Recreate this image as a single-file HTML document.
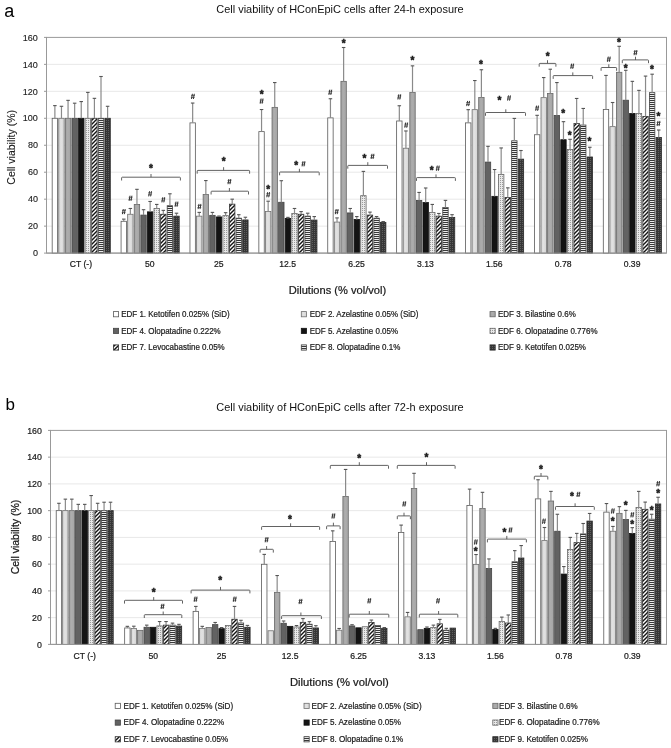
<!DOCTYPE html>
<html><head><meta charset="utf-8"><style>
html,body{margin:0;padding:0;background:#fff;}
svg{display:block;will-change:transform;}
text{font-family:"Liberation Sans",sans-serif;fill:#1a1a1a;}
.cat,.lg,.dil{stroke:#1a1a1a;stroke-width:0.22px;}
.tk{font-size:9px;stroke:#1a1a1a;stroke-width:0.12px;}
.cat{font-size:8.6px;}
.lg{font-size:7.96px;}
.ttl{font-size:10.95px;fill:#111;}
.dil{font-size:11px;}
.yl{font-size:10.5px;stroke:#1a1a1a;stroke-width:0.1px;}
.tkb{stroke:#1a1a1a;stroke-width:0.2px;font-size:8.8px;}
.ylb{stroke:#1a1a1a;stroke-width:0.25px;}
.pl{font-size:18px;fill:#000;}
.st{font-size:10px;font-weight:bold;fill:#1a1a1a;stroke:#1a1a1a;stroke-width:0.45px;}
.hs{font-size:6.5px;font-style:italic;font-weight:bold;fill:#333;}
</style></head>
<body><svg width="671" height="748" viewBox="0 0 671 748">
<rect width="671" height="748" fill="#fff"/>

<defs>
<linearGradient id="g2" x1="0" x2="1" y1="0" y2="0">
 <stop offset="0" stop-color="#d6d6d6"/><stop offset="0.45" stop-color="#e2e2e2"/><stop offset="1" stop-color="#d4d4d4"/>
</linearGradient>
<linearGradient id="g3" x1="0" x2="1" y1="0" y2="0">
 <stop offset="0" stop-color="#a2a2a2"/><stop offset="0.45" stop-color="#adadad"/><stop offset="1" stop-color="#a4a4a4"/>
</linearGradient>
<pattern id="p6" width="2" height="2" patternUnits="userSpaceOnUse">
 <rect width="2" height="2" fill="#e9e9e9"/><rect x="0" y="0" width="1" height="1" fill="#9a9a9a"/>
</pattern>
<pattern id="p7" width="4" height="4" patternUnits="userSpaceOnUse">
 <rect width="4" height="4" fill="#ffffff"/><path d="M0 3 L3 0 L4 0 L4 1 L1 4 L0 4 Z M0 0 L1 0 L0 1 Z M4 3 L4 4 L3 4 Z" fill="#141414"/>
</pattern>
<pattern id="p8" width="2" height="2" patternUnits="userSpaceOnUse">
 <rect width="2" height="2" fill="#ececec"/><rect width="2" height="1" fill="#383838"/>
</pattern>
<pattern id="p9" width="2" height="2" patternUnits="userSpaceOnUse">
 <rect width="2" height="2" fill="#363636"/><rect x="0" y="0" width="1" height="1" fill="#5e5e5e"/>
</pattern>
</defs>

<text x="4.2" y="17" class="pl">a</text>
<text x="340" y="13.1" text-anchor="middle" class="ttl">Cell viability of HConEpiC cells after 24-h exposure</text>
<text transform="translate(15.4,147.3) rotate(-90)" text-anchor="middle" class="yl">Cell viability (%)</text>
<line x1="46.5" y1="226.14" x2="666.5" y2="226.14" stroke="#e8e8e8" stroke-width="1"/>
<line x1="46.5" y1="199.18" x2="666.5" y2="199.18" stroke="#e8e8e8" stroke-width="1"/>
<line x1="46.5" y1="172.21" x2="666.5" y2="172.21" stroke="#e8e8e8" stroke-width="1"/>
<line x1="46.5" y1="145.25" x2="666.5" y2="145.25" stroke="#e8e8e8" stroke-width="1"/>
<line x1="46.5" y1="118.29" x2="666.5" y2="118.29" stroke="#e8e8e8" stroke-width="1"/>
<line x1="46.5" y1="91.32" x2="666.5" y2="91.32" stroke="#e8e8e8" stroke-width="1"/>
<line x1="46.5" y1="64.36" x2="666.5" y2="64.36" stroke="#e8e8e8" stroke-width="1"/>
<rect x="46.5" y="37.4" width="620" height="215.7" fill="none" stroke="#999" stroke-width="1"/>
<line x1="44" y1="253.1" x2="46.5" y2="253.1" stroke="#999" stroke-width="1"/>
<text x="37.9" y="256.3" text-anchor="end" class="tk">0</text>
<line x1="44" y1="226.14" x2="46.5" y2="226.14" stroke="#999" stroke-width="1"/>
<text x="37.9" y="229.34" text-anchor="end" class="tk">20</text>
<line x1="44" y1="199.18" x2="46.5" y2="199.18" stroke="#999" stroke-width="1"/>
<text x="37.9" y="202.38" text-anchor="end" class="tk">40</text>
<line x1="44" y1="172.21" x2="46.5" y2="172.21" stroke="#999" stroke-width="1"/>
<text x="37.9" y="175.41" text-anchor="end" class="tk">60</text>
<line x1="44" y1="145.25" x2="46.5" y2="145.25" stroke="#999" stroke-width="1"/>
<text x="37.9" y="148.45" text-anchor="end" class="tk">80</text>
<line x1="44" y1="118.29" x2="46.5" y2="118.29" stroke="#999" stroke-width="1"/>
<text x="37.9" y="121.49" text-anchor="end" class="tk">100</text>
<line x1="44" y1="91.32" x2="46.5" y2="91.32" stroke="#999" stroke-width="1"/>
<text x="37.9" y="94.52" text-anchor="end" class="tk">120</text>
<line x1="44" y1="64.36" x2="46.5" y2="64.36" stroke="#999" stroke-width="1"/>
<text x="37.9" y="67.56" text-anchor="end" class="tk">140</text>
<line x1="44" y1="37.4" x2="46.5" y2="37.4" stroke="#999" stroke-width="1"/>
<text x="37.9" y="40.6" text-anchor="end" class="tk">160</text>
<rect x="52.18" y="118.29" width="5.4" height="134.81" fill="#ffffff" stroke="#5a5a5a" stroke-width="0.8"/>
<line x1="54.88" y1="118.29" x2="54.88" y2="105.62" stroke="#8a8a8a" stroke-width="1.2"/>
<line x1="53.13" y1="105.62" x2="56.63" y2="105.62" stroke="#555" stroke-width="1.1"/>
<rect x="58.77" y="118.29" width="5.4" height="134.81" fill="url(#g2)" stroke="#707070" stroke-width="0.8"/>
<line x1="61.47" y1="118.29" x2="61.47" y2="106.29" stroke="#8a8a8a" stroke-width="1.2"/>
<line x1="59.72" y1="106.29" x2="63.22" y2="106.29" stroke="#555" stroke-width="1.1"/>
<rect x="65.36" y="118.29" width="5.4" height="134.81" fill="url(#g3)" stroke="#686868" stroke-width="0.8"/>
<line x1="68.06" y1="118.29" x2="68.06" y2="100.36" stroke="#8a8a8a" stroke-width="1.2"/>
<line x1="66.31" y1="100.36" x2="69.81" y2="100.36" stroke="#555" stroke-width="1.1"/>
<rect x="71.95" y="118.29" width="5.4" height="134.81" fill="#626262" stroke="#444" stroke-width="0.8"/>
<line x1="74.65" y1="118.29" x2="74.65" y2="103.19" stroke="#8a8a8a" stroke-width="1.2"/>
<line x1="72.9" y1="103.19" x2="76.4" y2="103.19" stroke="#555" stroke-width="1.1"/>
<rect x="78.54" y="118.29" width="5.4" height="134.81" fill="#141414" stroke="#111" stroke-width="0.8"/>
<line x1="81.24" y1="118.29" x2="81.24" y2="101.57" stroke="#8a8a8a" stroke-width="1.2"/>
<line x1="79.49" y1="101.57" x2="82.99" y2="101.57" stroke="#555" stroke-width="1.1"/>
<rect x="85.13" y="118.29" width="5.4" height="134.81" fill="url(#p6)" stroke="#666" stroke-width="0.8"/>
<line x1="87.83" y1="118.29" x2="87.83" y2="92.4" stroke="#8a8a8a" stroke-width="1.2"/>
<line x1="86.08" y1="92.4" x2="89.58" y2="92.4" stroke="#555" stroke-width="1.1"/>
<rect x="91.72" y="118.29" width="5.4" height="134.81" fill="url(#p7)" stroke="#333" stroke-width="0.8"/>
<line x1="94.42" y1="118.29" x2="94.42" y2="98.34" stroke="#8a8a8a" stroke-width="1.2"/>
<line x1="92.67" y1="98.34" x2="96.17" y2="98.34" stroke="#555" stroke-width="1.1"/>
<rect x="98.31" y="118.29" width="5.4" height="134.81" fill="url(#p8)" stroke="#444" stroke-width="0.8"/>
<line x1="101.01" y1="118.29" x2="101.01" y2="76.5" stroke="#8a8a8a" stroke-width="1.2"/>
<line x1="99.26" y1="76.5" x2="102.76" y2="76.5" stroke="#555" stroke-width="1.1"/>
<rect x="104.9" y="118.29" width="5.4" height="134.81" fill="url(#p9)" stroke="#2a2a2a" stroke-width="0.8"/>
<line x1="107.6" y1="118.29" x2="107.6" y2="106.29" stroke="#8a8a8a" stroke-width="1.2"/>
<line x1="105.85" y1="106.29" x2="109.35" y2="106.29" stroke="#555" stroke-width="1.1"/>
<text x="80.94" y="267.3" text-anchor="middle" class="cat">CT (-)</text>
<rect x="121.07" y="221.28" width="5.4" height="31.82" fill="#ffffff" stroke="#5a5a5a" stroke-width="0.8"/>
<line x1="123.77" y1="221.28" x2="123.77" y2="219.13" stroke="#8a8a8a" stroke-width="1.2"/>
<line x1="122.02" y1="219.13" x2="125.52" y2="219.13" stroke="#555" stroke-width="1.1"/>
<rect x="127.66" y="214.27" width="5.4" height="38.83" fill="url(#g2)" stroke="#707070" stroke-width="0.8"/>
<line x1="130.36" y1="214.27" x2="130.36" y2="208.48" stroke="#8a8a8a" stroke-width="1.2"/>
<line x1="128.61" y1="208.48" x2="132.11" y2="208.48" stroke="#555" stroke-width="1.1"/>
<rect x="134.25" y="204.43" width="5.4" height="48.67" fill="url(#g3)" stroke="#686868" stroke-width="0.8"/>
<line x1="136.95" y1="204.43" x2="136.95" y2="189.33" stroke="#8a8a8a" stroke-width="1.2"/>
<line x1="135.2" y1="189.33" x2="138.7" y2="189.33" stroke="#555" stroke-width="1.1"/>
<rect x="140.84" y="215.08" width="5.4" height="38.02" fill="#626262" stroke="#444" stroke-width="0.8"/>
<line x1="143.54" y1="215.08" x2="143.54" y2="209.69" stroke="#8a8a8a" stroke-width="1.2"/>
<line x1="141.79" y1="209.69" x2="145.29" y2="209.69" stroke="#555" stroke-width="1.1"/>
<rect x="147.43" y="211.85" width="5.4" height="41.25" fill="#141414" stroke="#111" stroke-width="0.8"/>
<line x1="150.13" y1="211.85" x2="150.13" y2="201.47" stroke="#8a8a8a" stroke-width="1.2"/>
<line x1="148.38" y1="201.47" x2="151.88" y2="201.47" stroke="#555" stroke-width="1.1"/>
<rect x="154.02" y="208.48" width="5.4" height="44.62" fill="url(#p6)" stroke="#666" stroke-width="0.8"/>
<line x1="156.72" y1="208.48" x2="156.72" y2="204.43" stroke="#8a8a8a" stroke-width="1.2"/>
<line x1="154.97" y1="204.43" x2="158.47" y2="204.43" stroke="#555" stroke-width="1.1"/>
<rect x="160.61" y="214.27" width="5.4" height="38.83" fill="url(#p7)" stroke="#333" stroke-width="0.8"/>
<line x1="163.31" y1="214.27" x2="163.31" y2="210.36" stroke="#8a8a8a" stroke-width="1.2"/>
<line x1="161.56" y1="210.36" x2="165.06" y2="210.36" stroke="#555" stroke-width="1.1"/>
<rect x="167.2" y="205.65" width="5.4" height="47.45" fill="url(#p8)" stroke="#444" stroke-width="0.8"/>
<line x1="169.9" y1="205.65" x2="169.9" y2="193.78" stroke="#8a8a8a" stroke-width="1.2"/>
<line x1="168.15" y1="193.78" x2="171.65" y2="193.78" stroke="#555" stroke-width="1.1"/>
<rect x="173.79" y="216.16" width="5.4" height="36.94" fill="url(#p9)" stroke="#2a2a2a" stroke-width="0.8"/>
<line x1="176.49" y1="216.16" x2="176.49" y2="213.2" stroke="#8a8a8a" stroke-width="1.2"/>
<line x1="174.74" y1="213.2" x2="178.24" y2="213.2" stroke="#555" stroke-width="1.1"/>
<text x="149.83" y="267.3" text-anchor="middle" class="cat">50</text>
<rect x="189.96" y="122.87" width="5.4" height="130.23" fill="#ffffff" stroke="#5a5a5a" stroke-width="0.8"/>
<line x1="192.66" y1="122.87" x2="192.66" y2="103.05" stroke="#8a8a8a" stroke-width="1.2"/>
<line x1="190.91" y1="103.05" x2="194.41" y2="103.05" stroke="#555" stroke-width="1.1"/>
<rect x="196.55" y="216.16" width="5.4" height="36.94" fill="url(#g2)" stroke="#707070" stroke-width="0.8"/>
<line x1="199.25" y1="216.16" x2="199.25" y2="212.39" stroke="#8a8a8a" stroke-width="1.2"/>
<line x1="197.5" y1="212.39" x2="201" y2="212.39" stroke="#555" stroke-width="1.1"/>
<rect x="203.14" y="194.59" width="5.4" height="58.51" fill="url(#g3)" stroke="#686868" stroke-width="0.8"/>
<line x1="205.84" y1="194.59" x2="205.84" y2="180.57" stroke="#8a8a8a" stroke-width="1.2"/>
<line x1="204.09" y1="180.57" x2="207.59" y2="180.57" stroke="#555" stroke-width="1.1"/>
<rect x="209.73" y="215.35" width="5.4" height="37.75" fill="#626262" stroke="#444" stroke-width="0.8"/>
<line x1="212.43" y1="215.35" x2="212.43" y2="212.39" stroke="#8a8a8a" stroke-width="1.2"/>
<line x1="210.68" y1="212.39" x2="214.18" y2="212.39" stroke="#555" stroke-width="1.1"/>
<rect x="216.32" y="216.97" width="5.4" height="36.13" fill="#141414" stroke="#111" stroke-width="0.8"/>
<line x1="219.02" y1="216.97" x2="219.02" y2="216.03" stroke="#8a8a8a" stroke-width="1.2"/>
<line x1="217.27" y1="216.03" x2="220.77" y2="216.03" stroke="#555" stroke-width="1.1"/>
<rect x="222.91" y="215.62" width="5.4" height="37.48" fill="url(#p6)" stroke="#666" stroke-width="0.8"/>
<line x1="225.61" y1="215.62" x2="225.61" y2="212.66" stroke="#8a8a8a" stroke-width="1.2"/>
<line x1="223.86" y1="212.66" x2="227.36" y2="212.66" stroke="#555" stroke-width="1.1"/>
<rect x="229.5" y="204.16" width="5.4" height="48.94" fill="url(#p7)" stroke="#333" stroke-width="0.8"/>
<line x1="232.2" y1="204.16" x2="232.2" y2="199.18" stroke="#8a8a8a" stroke-width="1.2"/>
<line x1="230.45" y1="199.18" x2="233.95" y2="199.18" stroke="#555" stroke-width="1.1"/>
<rect x="236.09" y="218.18" width="5.4" height="34.92" fill="url(#p8)" stroke="#444" stroke-width="0.8"/>
<line x1="238.79" y1="218.18" x2="238.79" y2="214.68" stroke="#8a8a8a" stroke-width="1.2"/>
<line x1="237.04" y1="214.68" x2="240.54" y2="214.68" stroke="#555" stroke-width="1.1"/>
<rect x="242.68" y="219.94" width="5.4" height="33.16" fill="url(#p9)" stroke="#2a2a2a" stroke-width="0.8"/>
<line x1="245.38" y1="219.94" x2="245.38" y2="217.24" stroke="#8a8a8a" stroke-width="1.2"/>
<line x1="243.63" y1="217.24" x2="247.13" y2="217.24" stroke="#555" stroke-width="1.1"/>
<text x="218.72" y="267.3" text-anchor="middle" class="cat">25</text>
<rect x="258.85" y="131.63" width="5.4" height="121.47" fill="#ffffff" stroke="#5a5a5a" stroke-width="0.8"/>
<line x1="261.55" y1="131.63" x2="261.55" y2="109.52" stroke="#8a8a8a" stroke-width="1.2"/>
<line x1="259.8" y1="109.52" x2="263.3" y2="109.52" stroke="#555" stroke-width="1.1"/>
<rect x="265.44" y="211.58" width="5.4" height="41.52" fill="url(#g2)" stroke="#707070" stroke-width="0.8"/>
<line x1="268.14" y1="211.58" x2="268.14" y2="201.2" stroke="#8a8a8a" stroke-width="1.2"/>
<line x1="266.39" y1="201.2" x2="269.89" y2="201.2" stroke="#555" stroke-width="1.1"/>
<rect x="272.03" y="107.37" width="5.4" height="145.73" fill="url(#g3)" stroke="#686868" stroke-width="0.8"/>
<line x1="274.73" y1="107.37" x2="274.73" y2="82.56" stroke="#8a8a8a" stroke-width="1.2"/>
<line x1="272.98" y1="82.56" x2="276.48" y2="82.56" stroke="#555" stroke-width="1.1"/>
<rect x="278.62" y="202.28" width="5.4" height="50.82" fill="#626262" stroke="#444" stroke-width="0.8"/>
<line x1="281.32" y1="202.28" x2="281.32" y2="180.71" stroke="#8a8a8a" stroke-width="1.2"/>
<line x1="279.57" y1="180.71" x2="283.07" y2="180.71" stroke="#555" stroke-width="1.1"/>
<rect x="285.21" y="218.45" width="5.4" height="34.65" fill="#141414" stroke="#111" stroke-width="0.8"/>
<line x1="287.91" y1="218.45" x2="287.91" y2="217.37" stroke="#8a8a8a" stroke-width="1.2"/>
<line x1="286.16" y1="217.37" x2="289.66" y2="217.37" stroke="#555" stroke-width="1.1"/>
<rect x="291.8" y="213.47" width="5.4" height="39.63" fill="url(#p6)" stroke="#666" stroke-width="0.8"/>
<line x1="294.5" y1="213.47" x2="294.5" y2="208.48" stroke="#8a8a8a" stroke-width="1.2"/>
<line x1="292.75" y1="208.48" x2="296.25" y2="208.48" stroke="#555" stroke-width="1.1"/>
<rect x="298.39" y="214.27" width="5.4" height="38.83" fill="url(#p7)" stroke="#333" stroke-width="0.8"/>
<line x1="301.09" y1="214.27" x2="301.09" y2="211.58" stroke="#8a8a8a" stroke-width="1.2"/>
<line x1="299.34" y1="211.58" x2="302.84" y2="211.58" stroke="#555" stroke-width="1.1"/>
<rect x="304.98" y="216.16" width="5.4" height="36.94" fill="url(#p8)" stroke="#444" stroke-width="0.8"/>
<line x1="307.68" y1="216.16" x2="307.68" y2="213.2" stroke="#8a8a8a" stroke-width="1.2"/>
<line x1="305.93" y1="213.2" x2="309.43" y2="213.2" stroke="#555" stroke-width="1.1"/>
<rect x="311.57" y="220.07" width="5.4" height="33.03" fill="url(#p9)" stroke="#2a2a2a" stroke-width="0.8"/>
<line x1="314.27" y1="220.07" x2="314.27" y2="216.57" stroke="#8a8a8a" stroke-width="1.2"/>
<line x1="312.52" y1="216.57" x2="316.02" y2="216.57" stroke="#555" stroke-width="1.1"/>
<text x="287.61" y="267.3" text-anchor="middle" class="cat">12.5</text>
<rect x="327.74" y="117.88" width="5.4" height="135.22" fill="#ffffff" stroke="#5a5a5a" stroke-width="0.8"/>
<line x1="330.44" y1="117.88" x2="330.44" y2="98.74" stroke="#8a8a8a" stroke-width="1.2"/>
<line x1="328.69" y1="98.74" x2="332.19" y2="98.74" stroke="#555" stroke-width="1.1"/>
<rect x="334.33" y="222.09" width="5.4" height="31.01" fill="url(#g2)" stroke="#707070" stroke-width="0.8"/>
<line x1="337.03" y1="222.09" x2="337.03" y2="217.91" stroke="#8a8a8a" stroke-width="1.2"/>
<line x1="335.28" y1="217.91" x2="338.78" y2="217.91" stroke="#555" stroke-width="1.1"/>
<rect x="340.92" y="81.35" width="5.4" height="171.75" fill="url(#g3)" stroke="#686868" stroke-width="0.8"/>
<line x1="343.62" y1="81.35" x2="343.62" y2="47.51" stroke="#8a8a8a" stroke-width="1.2"/>
<line x1="341.87" y1="47.51" x2="345.37" y2="47.51" stroke="#555" stroke-width="1.1"/>
<rect x="347.51" y="212.93" width="5.4" height="40.17" fill="#626262" stroke="#444" stroke-width="0.8"/>
<line x1="350.21" y1="212.93" x2="350.21" y2="208.48" stroke="#8a8a8a" stroke-width="1.2"/>
<line x1="348.46" y1="208.48" x2="351.96" y2="208.48" stroke="#555" stroke-width="1.1"/>
<rect x="354.1" y="219.4" width="5.4" height="33.7" fill="#141414" stroke="#111" stroke-width="0.8"/>
<line x1="356.8" y1="219.4" x2="356.8" y2="216.57" stroke="#8a8a8a" stroke-width="1.2"/>
<line x1="355.05" y1="216.57" x2="358.55" y2="216.57" stroke="#555" stroke-width="1.1"/>
<rect x="360.69" y="195.67" width="5.4" height="57.43" fill="url(#p6)" stroke="#666" stroke-width="0.8"/>
<line x1="363.39" y1="195.67" x2="363.39" y2="171.4" stroke="#8a8a8a" stroke-width="1.2"/>
<line x1="361.64" y1="171.4" x2="365.14" y2="171.4" stroke="#555" stroke-width="1.1"/>
<rect x="367.28" y="215.08" width="5.4" height="38.02" fill="url(#p7)" stroke="#333" stroke-width="0.8"/>
<line x1="369.98" y1="215.08" x2="369.98" y2="212.12" stroke="#8a8a8a" stroke-width="1.2"/>
<line x1="368.23" y1="212.12" x2="371.73" y2="212.12" stroke="#555" stroke-width="1.1"/>
<rect x="373.87" y="218.18" width="5.4" height="34.92" fill="url(#p8)" stroke="#444" stroke-width="0.8"/>
<line x1="376.57" y1="218.18" x2="376.57" y2="216.57" stroke="#8a8a8a" stroke-width="1.2"/>
<line x1="374.82" y1="216.57" x2="378.32" y2="216.57" stroke="#555" stroke-width="1.1"/>
<rect x="380.46" y="222.36" width="5.4" height="30.74" fill="url(#p9)" stroke="#2a2a2a" stroke-width="0.8"/>
<line x1="383.16" y1="222.36" x2="383.16" y2="221.55" stroke="#8a8a8a" stroke-width="1.2"/>
<line x1="381.41" y1="221.55" x2="384.91" y2="221.55" stroke="#555" stroke-width="1.1"/>
<text x="356.5" y="267.3" text-anchor="middle" class="cat">6.25</text>
<rect x="396.63" y="120.98" width="5.4" height="132.12" fill="#ffffff" stroke="#5a5a5a" stroke-width="0.8"/>
<line x1="399.33" y1="120.98" x2="399.33" y2="105.75" stroke="#8a8a8a" stroke-width="1.2"/>
<line x1="397.58" y1="105.75" x2="401.08" y2="105.75" stroke="#555" stroke-width="1.1"/>
<rect x="403.22" y="148.22" width="5.4" height="104.88" fill="url(#g2)" stroke="#707070" stroke-width="0.8"/>
<line x1="405.92" y1="148.22" x2="405.92" y2="130.96" stroke="#8a8a8a" stroke-width="1.2"/>
<line x1="404.17" y1="130.96" x2="407.67" y2="130.96" stroke="#555" stroke-width="1.1"/>
<rect x="409.81" y="92.54" width="5.4" height="160.56" fill="url(#g3)" stroke="#686868" stroke-width="0.8"/>
<line x1="412.51" y1="92.54" x2="412.51" y2="65.85" stroke="#8a8a8a" stroke-width="1.2"/>
<line x1="410.76" y1="65.85" x2="414.26" y2="65.85" stroke="#555" stroke-width="1.1"/>
<rect x="416.4" y="200.39" width="5.4" height="52.71" fill="#626262" stroke="#444" stroke-width="0.8"/>
<line x1="419.1" y1="200.39" x2="419.1" y2="192.43" stroke="#8a8a8a" stroke-width="1.2"/>
<line x1="417.35" y1="192.43" x2="420.85" y2="192.43" stroke="#555" stroke-width="1.1"/>
<rect x="422.99" y="202.55" width="5.4" height="50.55" fill="#141414" stroke="#111" stroke-width="0.8"/>
<line x1="425.69" y1="202.55" x2="425.69" y2="187.99" stroke="#8a8a8a" stroke-width="1.2"/>
<line x1="423.94" y1="187.99" x2="427.44" y2="187.99" stroke="#555" stroke-width="1.1"/>
<rect x="429.58" y="212.52" width="5.4" height="40.58" fill="url(#p6)" stroke="#666" stroke-width="0.8"/>
<line x1="432.28" y1="212.52" x2="432.28" y2="204.43" stroke="#8a8a8a" stroke-width="1.2"/>
<line x1="430.53" y1="204.43" x2="434.03" y2="204.43" stroke="#555" stroke-width="1.1"/>
<rect x="436.17" y="216.16" width="5.4" height="36.94" fill="url(#p7)" stroke="#333" stroke-width="0.8"/>
<line x1="438.87" y1="216.16" x2="438.87" y2="213.47" stroke="#8a8a8a" stroke-width="1.2"/>
<line x1="437.12" y1="213.47" x2="440.62" y2="213.47" stroke="#555" stroke-width="1.1"/>
<rect x="442.76" y="207.4" width="5.4" height="45.7" fill="url(#p8)" stroke="#444" stroke-width="0.8"/>
<line x1="445.46" y1="207.4" x2="445.46" y2="200.39" stroke="#8a8a8a" stroke-width="1.2"/>
<line x1="443.71" y1="200.39" x2="447.21" y2="200.39" stroke="#555" stroke-width="1.1"/>
<rect x="449.35" y="217.37" width="5.4" height="35.73" fill="url(#p9)" stroke="#2a2a2a" stroke-width="0.8"/>
<line x1="452.05" y1="217.37" x2="452.05" y2="214.68" stroke="#8a8a8a" stroke-width="1.2"/>
<line x1="450.3" y1="214.68" x2="453.8" y2="214.68" stroke="#555" stroke-width="1.1"/>
<text x="425.39" y="267.3" text-anchor="middle" class="cat">3.13</text>
<rect x="465.52" y="122.87" width="5.4" height="130.23" fill="#ffffff" stroke="#5a5a5a" stroke-width="0.8"/>
<line x1="468.22" y1="122.87" x2="468.22" y2="109.66" stroke="#8a8a8a" stroke-width="1.2"/>
<line x1="466.47" y1="109.66" x2="469.97" y2="109.66" stroke="#555" stroke-width="1.1"/>
<rect x="472.11" y="109.66" width="5.4" height="143.44" fill="url(#g2)" stroke="#707070" stroke-width="0.8"/>
<line x1="474.81" y1="109.66" x2="474.81" y2="80.54" stroke="#8a8a8a" stroke-width="1.2"/>
<line x1="473.06" y1="80.54" x2="476.56" y2="80.54" stroke="#555" stroke-width="1.1"/>
<rect x="478.7" y="97.53" width="5.4" height="155.57" fill="url(#g3)" stroke="#686868" stroke-width="0.8"/>
<line x1="481.4" y1="97.53" x2="481.4" y2="69.75" stroke="#8a8a8a" stroke-width="1.2"/>
<line x1="479.65" y1="69.75" x2="483.15" y2="69.75" stroke="#555" stroke-width="1.1"/>
<rect x="485.29" y="162.1" width="5.4" height="91" fill="#626262" stroke="#444" stroke-width="0.8"/>
<line x1="487.99" y1="162.1" x2="487.99" y2="146.33" stroke="#8a8a8a" stroke-width="1.2"/>
<line x1="486.24" y1="146.33" x2="489.74" y2="146.33" stroke="#555" stroke-width="1.1"/>
<rect x="491.88" y="196.34" width="5.4" height="56.76" fill="#141414" stroke="#111" stroke-width="0.8"/>
<line x1="494.58" y1="196.34" x2="494.58" y2="169.52" stroke="#8a8a8a" stroke-width="1.2"/>
<line x1="492.83" y1="169.52" x2="496.33" y2="169.52" stroke="#555" stroke-width="1.1"/>
<rect x="498.47" y="174.37" width="5.4" height="78.73" fill="url(#p6)" stroke="#666" stroke-width="0.8"/>
<line x1="501.17" y1="174.37" x2="501.17" y2="147.95" stroke="#8a8a8a" stroke-width="1.2"/>
<line x1="499.42" y1="147.95" x2="502.92" y2="147.95" stroke="#555" stroke-width="1.1"/>
<rect x="505.06" y="197.42" width="5.4" height="55.68" fill="url(#p7)" stroke="#333" stroke-width="0.8"/>
<line x1="507.76" y1="197.42" x2="507.76" y2="187.85" stroke="#8a8a8a" stroke-width="1.2"/>
<line x1="506.01" y1="187.85" x2="509.51" y2="187.85" stroke="#555" stroke-width="1.1"/>
<rect x="511.65" y="140.8" width="5.4" height="112.3" fill="url(#p8)" stroke="#444" stroke-width="0.8"/>
<line x1="514.35" y1="140.8" x2="514.35" y2="118.42" stroke="#8a8a8a" stroke-width="1.2"/>
<line x1="512.6" y1="118.42" x2="516.1" y2="118.42" stroke="#555" stroke-width="1.1"/>
<rect x="518.24" y="159.14" width="5.4" height="93.96" fill="url(#p9)" stroke="#2a2a2a" stroke-width="0.8"/>
<line x1="520.94" y1="159.14" x2="520.94" y2="150.51" stroke="#8a8a8a" stroke-width="1.2"/>
<line x1="519.19" y1="150.51" x2="522.69" y2="150.51" stroke="#555" stroke-width="1.1"/>
<text x="494.28" y="267.3" text-anchor="middle" class="cat">1.56</text>
<rect x="534.41" y="134.73" width="5.4" height="118.37" fill="#ffffff" stroke="#5a5a5a" stroke-width="0.8"/>
<line x1="537.11" y1="134.73" x2="537.11" y2="115.32" stroke="#8a8a8a" stroke-width="1.2"/>
<line x1="535.36" y1="115.32" x2="538.86" y2="115.32" stroke="#555" stroke-width="1.1"/>
<rect x="541" y="97.66" width="5.4" height="155.44" fill="url(#g2)" stroke="#707070" stroke-width="0.8"/>
<line x1="543.7" y1="97.66" x2="543.7" y2="77.57" stroke="#8a8a8a" stroke-width="1.2"/>
<line x1="541.95" y1="77.57" x2="545.45" y2="77.57" stroke="#555" stroke-width="1.1"/>
<rect x="547.59" y="93.48" width="5.4" height="159.62" fill="url(#g3)" stroke="#686868" stroke-width="0.8"/>
<line x1="550.29" y1="93.48" x2="550.29" y2="69.22" stroke="#8a8a8a" stroke-width="1.2"/>
<line x1="548.54" y1="69.22" x2="552.04" y2="69.22" stroke="#555" stroke-width="1.1"/>
<rect x="554.18" y="115.46" width="5.4" height="137.64" fill="#626262" stroke="#444" stroke-width="0.8"/>
<line x1="556.88" y1="115.46" x2="556.88" y2="82.56" stroke="#8a8a8a" stroke-width="1.2"/>
<line x1="555.13" y1="82.56" x2="558.63" y2="82.56" stroke="#555" stroke-width="1.1"/>
<rect x="560.77" y="139.72" width="5.4" height="113.38" fill="#141414" stroke="#111" stroke-width="0.8"/>
<line x1="563.47" y1="139.72" x2="563.47" y2="121.66" stroke="#8a8a8a" stroke-width="1.2"/>
<line x1="561.72" y1="121.66" x2="565.22" y2="121.66" stroke="#555" stroke-width="1.1"/>
<rect x="567.36" y="149.43" width="5.4" height="103.67" fill="url(#p6)" stroke="#666" stroke-width="0.8"/>
<line x1="570.06" y1="149.43" x2="570.06" y2="139.32" stroke="#8a8a8a" stroke-width="1.2"/>
<line x1="568.31" y1="139.32" x2="571.81" y2="139.32" stroke="#555" stroke-width="1.1"/>
<rect x="573.95" y="123.55" width="5.4" height="129.55" fill="url(#p7)" stroke="#333" stroke-width="0.8"/>
<line x1="576.65" y1="123.55" x2="576.65" y2="98.47" stroke="#8a8a8a" stroke-width="1.2"/>
<line x1="574.9" y1="98.47" x2="578.4" y2="98.47" stroke="#555" stroke-width="1.1"/>
<rect x="580.54" y="125.03" width="5.4" height="128.07" fill="url(#p8)" stroke="#444" stroke-width="0.8"/>
<line x1="583.24" y1="125.03" x2="583.24" y2="108.45" stroke="#8a8a8a" stroke-width="1.2"/>
<line x1="581.49" y1="108.45" x2="584.99" y2="108.45" stroke="#555" stroke-width="1.1"/>
<rect x="587.13" y="156.98" width="5.4" height="96.12" fill="url(#p9)" stroke="#2a2a2a" stroke-width="0.8"/>
<line x1="589.83" y1="156.98" x2="589.83" y2="147.27" stroke="#8a8a8a" stroke-width="1.2"/>
<line x1="588.08" y1="147.27" x2="591.58" y2="147.27" stroke="#555" stroke-width="1.1"/>
<text x="563.17" y="267.3" text-anchor="middle" class="cat">0.78</text>
<rect x="603.3" y="109.52" width="5.4" height="143.58" fill="#ffffff" stroke="#5a5a5a" stroke-width="0.8"/>
<line x1="606" y1="109.52" x2="606" y2="75.42" stroke="#8a8a8a" stroke-width="1.2"/>
<line x1="604.25" y1="75.42" x2="607.75" y2="75.42" stroke="#555" stroke-width="1.1"/>
<rect x="609.89" y="126.65" width="5.4" height="126.45" fill="url(#g2)" stroke="#707070" stroke-width="0.8"/>
<line x1="612.59" y1="126.65" x2="612.59" y2="102.51" stroke="#8a8a8a" stroke-width="1.2"/>
<line x1="610.84" y1="102.51" x2="614.34" y2="102.51" stroke="#555" stroke-width="1.1"/>
<rect x="616.48" y="72.32" width="5.4" height="180.78" fill="url(#g3)" stroke="#686868" stroke-width="0.8"/>
<line x1="619.18" y1="72.32" x2="619.18" y2="46.3" stroke="#8a8a8a" stroke-width="1.2"/>
<line x1="617.43" y1="46.3" x2="620.93" y2="46.3" stroke="#555" stroke-width="1.1"/>
<rect x="623.07" y="100.22" width="5.4" height="152.88" fill="#626262" stroke="#444" stroke-width="0.8"/>
<line x1="625.77" y1="100.22" x2="625.77" y2="70.29" stroke="#8a8a8a" stroke-width="1.2"/>
<line x1="624.02" y1="70.29" x2="627.52" y2="70.29" stroke="#555" stroke-width="1.1"/>
<rect x="629.66" y="113.43" width="5.4" height="139.67" fill="#141414" stroke="#111" stroke-width="0.8"/>
<line x1="632.36" y1="113.43" x2="632.36" y2="81.35" stroke="#8a8a8a" stroke-width="1.2"/>
<line x1="630.61" y1="81.35" x2="634.11" y2="81.35" stroke="#555" stroke-width="1.1"/>
<rect x="636.25" y="113.43" width="5.4" height="139.67" fill="url(#p6)" stroke="#666" stroke-width="0.8"/>
<line x1="638.95" y1="113.43" x2="638.95" y2="90.38" stroke="#8a8a8a" stroke-width="1.2"/>
<line x1="637.2" y1="90.38" x2="640.7" y2="90.38" stroke="#555" stroke-width="1.1"/>
<rect x="642.84" y="116.4" width="5.4" height="136.7" fill="url(#p7)" stroke="#333" stroke-width="0.8"/>
<line x1="645.54" y1="116.4" x2="645.54" y2="76.09" stroke="#8a8a8a" stroke-width="1.2"/>
<line x1="643.79" y1="76.09" x2="647.29" y2="76.09" stroke="#555" stroke-width="1.1"/>
<rect x="649.43" y="92.67" width="5.4" height="160.43" fill="url(#p8)" stroke="#444" stroke-width="0.8"/>
<line x1="652.13" y1="92.67" x2="652.13" y2="74.2" stroke="#8a8a8a" stroke-width="1.2"/>
<line x1="650.38" y1="74.2" x2="653.88" y2="74.2" stroke="#555" stroke-width="1.1"/>
<rect x="656.02" y="137.43" width="5.4" height="115.67" fill="url(#p9)" stroke="#2a2a2a" stroke-width="0.8"/>
<line x1="658.72" y1="137.43" x2="658.72" y2="130.02" stroke="#8a8a8a" stroke-width="1.2"/>
<line x1="656.97" y1="130.02" x2="660.47" y2="130.02" stroke="#555" stroke-width="1.1"/>
<text x="632.06" y="267.3" text-anchor="middle" class="cat">0.39</text>
<line x1="46.5" y1="253.1" x2="666.5" y2="253.1" stroke="#999" stroke-width="1"/>
<path d="M121.6 180.5 L121.6 177.9 Q121.6 177.2 122.3 177.2 L179.7 177.2 Q180.4 177.2 180.4 177.9 L180.4 180.5 M151 177.2 L151 174" fill="none" stroke="#505050" stroke-width="0.9"/>
<path d="M197.2 173.7 L197.2 171.1 Q197.2 170.4 197.9 170.4 L248.9 170.4 Q249.6 170.4 249.6 171.1 L249.6 173.7 M223.6 170.4 L223.6 167.2" fill="none" stroke="#505050" stroke-width="0.9"/>
<path d="M211.1 194.5 L211.1 191.9 Q211.1 191.2 211.8 191.2 L247.8 191.2 Q248.5 191.2 248.5 191.9 L248.5 194.5 M229.4 191.2 L229.4 188" fill="none" stroke="#505050" stroke-width="0.9"/>
<path d="M279.6 175.3 L279.6 172.7 Q279.6 172 280.3 172 L318.5 172 Q319.2 172 319.2 172.7 L319.2 175.3 M299.4 172 L299.4 168.8" fill="none" stroke="#505050" stroke-width="0.9"/>
<path d="M347.8 168.7 L347.8 166.1 Q347.8 165.4 348.5 165.4 L386.8 165.4 Q387.5 165.4 387.5 166.1 L387.5 168.7 M367.8 165.4 L367.8 162.2" fill="none" stroke="#505050" stroke-width="0.9"/>
<path d="M416.5 180.9 L416.5 178.3 Q416.5 177.6 417.2 177.6 L454.7 177.6 Q455.4 177.6 455.4 178.3 L455.4 180.9 M436 177.6 L436 174.4" fill="none" stroke="#505050" stroke-width="0.9"/>
<path d="M485.5 115.8 L485.5 113.2 Q485.5 112.5 486.2 112.5 L524.8 112.5 Q525.5 112.5 525.5 113.2 L525.5 115.8 M505.8 112.5 L505.8 109.3" fill="none" stroke="#505050" stroke-width="0.9"/>
<path d="M539.2 66.7 L539.2 64.1 Q539.2 63.4 539.9 63.4 L555.2 63.4 Q555.9 63.4 555.9 64.1 L555.9 66.7 M547.5 63.4 L547.5 60.2" fill="none" stroke="#505050" stroke-width="0.9"/>
<path d="M553.2 78.9 L553.2 76.3 Q553.2 75.6 553.9 75.6 L591.9 75.6 Q592.6 75.6 592.6 76.3 L592.6 78.9 M572.8 75.6 L572.8 72.4" fill="none" stroke="#505050" stroke-width="0.9"/>
<path d="M601.1 70.8 L601.1 68.2 Q601.1 67.5 601.8 67.5 L615.9 67.5 Q616.6 67.5 616.6 68.2 L616.6 70.8 M608.8 67.5 L608.8 64.3" fill="none" stroke="#505050" stroke-width="0.9"/>
<path d="M622.3 63.2 L622.3 60.6 Q622.3 59.9 623 59.9 L647.8 59.9 Q648.5 59.9 648.5 60.6 L648.5 63.2 M635.5 59.9 L635.5 56.7" fill="none" stroke="#505050" stroke-width="0.9"/>
<text x="151" y="171.6" text-anchor="middle" class="st">*</text>
<path d="M122.4 214.2 L123.3 209 M124.3 214.2 L125.2 209" stroke="#2a2a2a" stroke-width="0.95" fill="none"/><path d="M122 210.6 L125.8 210.6 M121.8 212.6 L125.5 212.6" stroke="#3a3a3a" stroke-width="0.7" fill="none"/>
<path d="M129.1 200.9 L130 195.7 M131 200.9 L131.9 195.7" stroke="#2a2a2a" stroke-width="0.95" fill="none"/><path d="M128.7 197.3 L132.5 197.3 M128.5 199.3 L132.2 199.3" stroke="#3a3a3a" stroke-width="0.7" fill="none"/>
<path d="M148.7 196.4 L149.6 191.2 M150.6 196.4 L151.5 191.2" stroke="#2a2a2a" stroke-width="0.95" fill="none"/><path d="M148.3 192.8 L152.1 192.8 M148.1 194.8 L151.8 194.8" stroke="#3a3a3a" stroke-width="0.7" fill="none"/>
<path d="M161.9 202.4 L162.8 197.2 M163.8 202.4 L164.7 197.2" stroke="#2a2a2a" stroke-width="0.95" fill="none"/><path d="M161.5 198.8 L165.3 198.8 M161.3 200.8 L165 200.8" stroke="#3a3a3a" stroke-width="0.7" fill="none"/>
<path d="M175.1 206.8 L176 201.6 M177 206.8 L177.9 201.6" stroke="#2a2a2a" stroke-width="0.95" fill="none"/><path d="M174.7 203.2 L178.5 203.2 M174.5 205.2 L178.2 205.2" stroke="#3a3a3a" stroke-width="0.7" fill="none"/>
<text x="223.6" y="165.4" text-anchor="middle" class="st">*</text>
<path d="M228 184.2 L228.9 179 M229.9 184.2 L230.8 179" stroke="#2a2a2a" stroke-width="0.95" fill="none"/><path d="M227.6 180.6 L231.4 180.6 M227.4 182.6 L231.1 182.6" stroke="#3a3a3a" stroke-width="0.7" fill="none"/>
<path d="M191.5 99 L192.4 93.8 M193.4 99 L194.3 93.8" stroke="#2a2a2a" stroke-width="0.95" fill="none"/><path d="M191.1 95.4 L194.9 95.4 M190.9 97.4 L194.6 97.4" stroke="#3a3a3a" stroke-width="0.7" fill="none"/>
<path d="M198.1 209.1 L199 203.9 M200 209.1 L200.9 203.9" stroke="#2a2a2a" stroke-width="0.95" fill="none"/><path d="M197.7 205.5 L201.5 205.5 M197.5 207.5 L201.2 207.5" stroke="#3a3a3a" stroke-width="0.7" fill="none"/>
<text x="261.6" y="98.3" text-anchor="middle" class="st">*</text>
<path d="M260.2 103.7 L261.1 98.5 M262.1 103.7 L263 98.5" stroke="#2a2a2a" stroke-width="0.95" fill="none"/><path d="M259.8 100.1 L263.6 100.1 M259.6 102.1 L263.3 102.1" stroke="#3a3a3a" stroke-width="0.7" fill="none"/>
<text x="268.2" y="192.9" text-anchor="middle" class="st">*</text>
<path d="M266.8 197.3 L267.7 192.1 M268.7 197.3 L269.6 192.1" stroke="#2a2a2a" stroke-width="0.95" fill="none"/><path d="M266.4 193.7 L270.2 193.7 M266.2 195.7 L269.9 195.7" stroke="#3a3a3a" stroke-width="0.7" fill="none"/>
<text x="296.1" y="169.4" text-anchor="middle" class="st">*</text>
<path d="M302.1 166.4 L303 161.2 M304 166.4 L304.9 161.2" stroke="#2a2a2a" stroke-width="0.95" fill="none"/><path d="M301.7 162.8 L305.5 162.8 M301.5 164.8 L305.2 164.8" stroke="#3a3a3a" stroke-width="0.7" fill="none"/>
<path d="M328.9 94.9 L329.8 89.7 M330.8 94.9 L331.7 89.7" stroke="#2a2a2a" stroke-width="0.95" fill="none"/><path d="M328.5 91.3 L332.3 91.3 M328.3 93.3 L332 93.3" stroke="#3a3a3a" stroke-width="0.7" fill="none"/>
<text x="343.8" y="47.2" text-anchor="middle" class="st">*</text>
<path d="M335.3 214.2 L336.2 209 M337.2 214.2 L338.1 209" stroke="#2a2a2a" stroke-width="0.95" fill="none"/><path d="M334.9 210.6 L338.7 210.6 M334.7 212.6 L338.4 212.6" stroke="#3a3a3a" stroke-width="0.7" fill="none"/>
<text x="364.4" y="162" text-anchor="middle" class="st">*</text>
<path d="M371.1 159 L372 153.8 M373 159 L373.9 153.8" stroke="#2a2a2a" stroke-width="0.95" fill="none"/><path d="M370.7 155.4 L374.5 155.4 M370.5 157.4 L374.2 157.4" stroke="#3a3a3a" stroke-width="0.7" fill="none"/>
<path d="M397.9 99.5 L398.8 94.3 M399.8 99.5 L400.7 94.3" stroke="#2a2a2a" stroke-width="0.95" fill="none"/><path d="M397.5 95.9 L401.3 95.9 M397.3 97.9 L401 97.9" stroke="#3a3a3a" stroke-width="0.7" fill="none"/>
<path d="M404.8 127.7 L405.7 122.5 M406.7 127.7 L407.6 122.5" stroke="#2a2a2a" stroke-width="0.95" fill="none"/><path d="M404.4 124.1 L408.2 124.1 M404.2 126.1 L407.9 126.1" stroke="#3a3a3a" stroke-width="0.7" fill="none"/>
<text x="412.5" y="64.2" text-anchor="middle" class="st">*</text>
<text x="431.6" y="173.8" text-anchor="middle" class="st">*</text>
<path d="M436.4 170.8 L437.3 165.6 M438.3 170.8 L439.2 165.6" stroke="#2a2a2a" stroke-width="0.95" fill="none"/><path d="M436 167.2 L439.8 167.2 M435.8 169.2 L439.5 169.2" stroke="#3a3a3a" stroke-width="0.7" fill="none"/>
<path d="M466.7 106.1 L467.6 100.9 M468.6 106.1 L469.5 100.9" stroke="#2a2a2a" stroke-width="0.95" fill="none"/><path d="M466.3 102.5 L470.1 102.5 M466.1 104.5 L469.8 104.5" stroke="#3a3a3a" stroke-width="0.7" fill="none"/>
<text x="481" y="67.5" text-anchor="middle" class="st">*</text>
<text x="499.4" y="103.6" text-anchor="middle" class="st">*</text>
<path d="M507.6 100.6 L508.5 95.4 M509.5 100.6 L510.4 95.4" stroke="#2a2a2a" stroke-width="0.95" fill="none"/><path d="M507.2 97 L511 97 M507 99 L510.7 99" stroke="#3a3a3a" stroke-width="0.7" fill="none"/>
<path d="M535.7 110.8 L536.6 105.6 M537.6 110.8 L538.5 105.6" stroke="#2a2a2a" stroke-width="0.95" fill="none"/><path d="M535.3 107.2 L539.1 107.2 M535.1 109.2 L538.8 109.2" stroke="#3a3a3a" stroke-width="0.7" fill="none"/>
<text x="547.6" y="59.7" text-anchor="middle" class="st">*</text>
<path d="M570.8 68.8 L571.7 63.6 M572.7 68.8 L573.6 63.6" stroke="#2a2a2a" stroke-width="0.95" fill="none"/><path d="M570.4 65.2 L574.2 65.2 M570.2 67.2 L573.9 67.2" stroke="#3a3a3a" stroke-width="0.7" fill="none"/>
<text x="563.2" y="117.4" text-anchor="middle" class="st">*</text>
<text x="569.8" y="139.1" text-anchor="middle" class="st">*</text>
<text x="589.5" y="145" text-anchor="middle" class="st">*</text>
<path d="M607.4 61.8 L608.3 56.6 M609.3 61.8 L610.2 56.6" stroke="#2a2a2a" stroke-width="0.95" fill="none"/><path d="M607 58.2 L610.8 58.2 M606.8 60.2 L610.5 60.2" stroke="#3a3a3a" stroke-width="0.7" fill="none"/>
<path d="M634.1 55.2 L635 50 M636 55.2 L636.9 50" stroke="#2a2a2a" stroke-width="0.95" fill="none"/><path d="M633.7 51.6 L637.5 51.6 M633.5 53.6 L637.2 53.6" stroke="#3a3a3a" stroke-width="0.7" fill="none"/>
<text x="619" y="46.4" text-anchor="middle" class="st">*</text>
<text x="625.6" y="72.2" text-anchor="middle" class="st">*</text>
<text x="651.9" y="72.9" text-anchor="middle" class="st">*</text>
<text x="658.5" y="120" text-anchor="middle" class="st">*</text>
<path d="M657.1 126.1 L658 120.9 M659 126.1 L659.9 120.9" stroke="#2a2a2a" stroke-width="0.95" fill="none"/><path d="M656.7 122.5 L660.5 122.5 M656.5 124.5 L660.2 124.5" stroke="#3a3a3a" stroke-width="0.7" fill="none"/>
<text x="337.4" y="294.1" text-anchor="middle" class="dil" style="font-size:11.1px">Dilutions (% vol/vol)</text>
<rect x="113.4" y="311.6" width="5.2" height="5.2" fill="#ffffff" stroke="#5a5a5a" stroke-width="0.8"/>
<text transform="translate(121.2,316.9) scale(0.89,1)" class="lg" style="font-size:9px">EDF 1. Ketotifen 0.025% (SiD)</text>
<rect x="301.3" y="311.6" width="5.2" height="5.2" fill="url(#g2)" stroke="#707070" stroke-width="0.8"/>
<text transform="translate(309.7,316.9) scale(0.89,1)" class="lg" style="font-size:9px">EDF 2. Azelastine 0.05% (SiD)</text>
<rect x="490" y="311.6" width="5.2" height="5.2" fill="url(#g3)" stroke="#686868" stroke-width="0.8"/>
<text transform="translate(498,316.9) scale(0.89,1)" class="lg" style="font-size:9px">EDF 3. Bilastine 0.6%</text>
<rect x="113.4" y="328.3" width="5.2" height="5.2" fill="#626262" stroke="#444" stroke-width="0.8"/>
<text transform="translate(121.2,333.6) scale(0.89,1)" class="lg" style="font-size:9px">EDF 4. Olopatadine 0.222%</text>
<rect x="301.3" y="328.3" width="5.2" height="5.2" fill="#141414" stroke="#111" stroke-width="0.8"/>
<text transform="translate(309.7,333.6) scale(0.89,1)" class="lg" style="font-size:9px">EDF 5. Azelastine 0.05%</text>
<rect x="490" y="328.3" width="5.2" height="5.2" fill="url(#p6)" stroke="#666" stroke-width="0.8"/>
<text transform="translate(498,333.6) scale(0.89,1)" class="lg" style="font-size:9px">EDF 6. Olopatadine 0.776%</text>
<rect x="113.4" y="344.9" width="5.2" height="5.2" fill="url(#p7)" stroke="#333" stroke-width="0.8"/>
<text transform="translate(121.2,350.2) scale(0.89,1)" class="lg" style="font-size:9px">EDF 7. Levocabastine 0.05%</text>
<rect x="301.3" y="344.9" width="5.2" height="5.2" fill="url(#p8)" stroke="#444" stroke-width="0.8"/>
<text transform="translate(309.7,350.2) scale(0.89,1)" class="lg" style="font-size:9px">EDF 8. Olopatadine 0.1%</text>
<rect x="490" y="344.9" width="5.2" height="5.2" fill="url(#p9)" stroke="#2a2a2a" stroke-width="0.8"/>
<text transform="translate(498,350.2) scale(0.89,1)" class="lg" style="font-size:9px">EDF 9. Ketotifen 0.025%</text>
<text x="5.5" y="409.7" class="pl" style="font-size:17px">b</text>
<text x="340" y="411.1" text-anchor="middle" class="ttl">Cell viability of HConEpiC cells after 72-h exposure</text>
<text transform="translate(19.4,537) rotate(-90)" text-anchor="middle" class="yl ylb">Cell viability (%)</text>
<line x1="50.5" y1="617.65" x2="666.5" y2="617.65" stroke="#e8e8e8" stroke-width="1"/>
<line x1="50.5" y1="590.9" x2="666.5" y2="590.9" stroke="#e8e8e8" stroke-width="1"/>
<line x1="50.5" y1="564.15" x2="666.5" y2="564.15" stroke="#e8e8e8" stroke-width="1"/>
<line x1="50.5" y1="537.4" x2="666.5" y2="537.4" stroke="#e8e8e8" stroke-width="1"/>
<line x1="50.5" y1="510.65" x2="666.5" y2="510.65" stroke="#e8e8e8" stroke-width="1"/>
<line x1="50.5" y1="483.9" x2="666.5" y2="483.9" stroke="#e8e8e8" stroke-width="1"/>
<line x1="50.5" y1="457.15" x2="666.5" y2="457.15" stroke="#e8e8e8" stroke-width="1"/>
<rect x="50.5" y="430.4" width="616" height="214" fill="none" stroke="#999" stroke-width="1"/>
<line x1="48" y1="644.4" x2="50.5" y2="644.4" stroke="#999" stroke-width="1"/>
<text x="41.9" y="647.6" text-anchor="end" class="tk tkb">0</text>
<line x1="48" y1="617.65" x2="50.5" y2="617.65" stroke="#999" stroke-width="1"/>
<text x="41.9" y="620.85" text-anchor="end" class="tk tkb">20</text>
<line x1="48" y1="590.9" x2="50.5" y2="590.9" stroke="#999" stroke-width="1"/>
<text x="41.9" y="594.1" text-anchor="end" class="tk tkb">40</text>
<line x1="48" y1="564.15" x2="50.5" y2="564.15" stroke="#999" stroke-width="1"/>
<text x="41.9" y="567.35" text-anchor="end" class="tk tkb">60</text>
<line x1="48" y1="537.4" x2="50.5" y2="537.4" stroke="#999" stroke-width="1"/>
<text x="41.9" y="540.6" text-anchor="end" class="tk tkb">80</text>
<line x1="48" y1="510.65" x2="50.5" y2="510.65" stroke="#999" stroke-width="1"/>
<text x="41.9" y="513.85" text-anchor="end" class="tk tkb">100</text>
<line x1="48" y1="483.9" x2="50.5" y2="483.9" stroke="#999" stroke-width="1"/>
<text x="41.9" y="487.1" text-anchor="end" class="tk tkb">120</text>
<line x1="48" y1="457.15" x2="50.5" y2="457.15" stroke="#999" stroke-width="1"/>
<text x="41.9" y="460.35" text-anchor="end" class="tk tkb">140</text>
<line x1="48" y1="430.4" x2="50.5" y2="430.4" stroke="#999" stroke-width="1"/>
<text x="41.9" y="433.6" text-anchor="end" class="tk tkb">160</text>
<rect x="56.22" y="510.65" width="5.4" height="133.75" fill="#ffffff" stroke="#5a5a5a" stroke-width="0.8"/>
<line x1="58.92" y1="510.65" x2="58.92" y2="503.29" stroke="#8a8a8a" stroke-width="1.2"/>
<line x1="57.17" y1="503.29" x2="60.67" y2="503.29" stroke="#555" stroke-width="1.1"/>
<rect x="62.67" y="510.65" width="5.4" height="133.75" fill="url(#g2)" stroke="#707070" stroke-width="0.8"/>
<line x1="65.37" y1="510.65" x2="65.37" y2="499.15" stroke="#8a8a8a" stroke-width="1.2"/>
<line x1="63.62" y1="499.15" x2="67.12" y2="499.15" stroke="#555" stroke-width="1.1"/>
<rect x="69.12" y="510.65" width="5.4" height="133.75" fill="url(#g3)" stroke="#686868" stroke-width="0.8"/>
<line x1="71.82" y1="510.65" x2="71.82" y2="499.15" stroke="#8a8a8a" stroke-width="1.2"/>
<line x1="70.07" y1="499.15" x2="73.57" y2="499.15" stroke="#555" stroke-width="1.1"/>
<rect x="75.57" y="510.65" width="5.4" height="133.75" fill="#626262" stroke="#444" stroke-width="0.8"/>
<line x1="78.27" y1="510.65" x2="78.27" y2="504.36" stroke="#8a8a8a" stroke-width="1.2"/>
<line x1="76.52" y1="504.36" x2="80.02" y2="504.36" stroke="#555" stroke-width="1.1"/>
<rect x="82.02" y="510.65" width="5.4" height="133.75" fill="#141414" stroke="#111" stroke-width="0.8"/>
<line x1="84.72" y1="510.65" x2="84.72" y2="504.36" stroke="#8a8a8a" stroke-width="1.2"/>
<line x1="82.97" y1="504.36" x2="86.47" y2="504.36" stroke="#555" stroke-width="1.1"/>
<rect x="88.47" y="510.65" width="5.4" height="133.75" fill="url(#p6)" stroke="#666" stroke-width="0.8"/>
<line x1="91.17" y1="510.65" x2="91.17" y2="495.54" stroke="#8a8a8a" stroke-width="1.2"/>
<line x1="89.42" y1="495.54" x2="92.92" y2="495.54" stroke="#555" stroke-width="1.1"/>
<rect x="94.92" y="510.65" width="5.4" height="133.75" fill="url(#p7)" stroke="#333" stroke-width="0.8"/>
<line x1="97.62" y1="510.65" x2="97.62" y2="503.29" stroke="#8a8a8a" stroke-width="1.2"/>
<line x1="95.87" y1="503.29" x2="99.37" y2="503.29" stroke="#555" stroke-width="1.1"/>
<rect x="101.37" y="510.65" width="5.4" height="133.75" fill="url(#p8)" stroke="#444" stroke-width="0.8"/>
<line x1="104.07" y1="510.65" x2="104.07" y2="502.22" stroke="#8a8a8a" stroke-width="1.2"/>
<line x1="102.32" y1="502.22" x2="105.82" y2="502.22" stroke="#555" stroke-width="1.1"/>
<rect x="107.82" y="510.65" width="5.4" height="133.75" fill="url(#p9)" stroke="#2a2a2a" stroke-width="0.8"/>
<line x1="110.52" y1="510.65" x2="110.52" y2="502.22" stroke="#8a8a8a" stroke-width="1.2"/>
<line x1="108.77" y1="502.22" x2="112.27" y2="502.22" stroke="#555" stroke-width="1.1"/>
<text x="84.72" y="659.4" text-anchor="middle" class="cat">CT (-)</text>
<rect x="124.67" y="627.95" width="5.4" height="16.45" fill="#ffffff" stroke="#5a5a5a" stroke-width="0.8"/>
<line x1="127.37" y1="627.95" x2="127.37" y2="626.34" stroke="#8a8a8a" stroke-width="1.2"/>
<line x1="125.62" y1="626.34" x2="129.12" y2="626.34" stroke="#555" stroke-width="1.1"/>
<rect x="131.12" y="628.48" width="5.4" height="15.92" fill="url(#g2)" stroke="#707070" stroke-width="0.8"/>
<line x1="133.82" y1="628.48" x2="133.82" y2="626.21" stroke="#8a8a8a" stroke-width="1.2"/>
<line x1="132.07" y1="626.21" x2="135.57" y2="626.21" stroke="#555" stroke-width="1.1"/>
<rect x="137.57" y="630.36" width="5.4" height="14.04" fill="url(#g3)" stroke="#686868" stroke-width="0.8"/>
<rect x="144.02" y="627.28" width="5.4" height="17.12" fill="#626262" stroke="#444" stroke-width="0.8"/>
<line x1="146.72" y1="627.28" x2="146.72" y2="625.14" stroke="#8a8a8a" stroke-width="1.2"/>
<line x1="144.97" y1="625.14" x2="148.47" y2="625.14" stroke="#555" stroke-width="1.1"/>
<rect x="150.47" y="627.28" width="5.4" height="17.12" fill="#141414" stroke="#111" stroke-width="0.8"/>
<rect x="156.92" y="625.94" width="5.4" height="18.46" fill="url(#p6)" stroke="#666" stroke-width="0.8"/>
<line x1="159.62" y1="625.94" x2="159.62" y2="621.53" stroke="#8a8a8a" stroke-width="1.2"/>
<line x1="157.87" y1="621.53" x2="161.37" y2="621.53" stroke="#555" stroke-width="1.1"/>
<rect x="163.37" y="625.14" width="5.4" height="19.26" fill="url(#p7)" stroke="#333" stroke-width="0.8"/>
<line x1="166.07" y1="625.14" x2="166.07" y2="621.53" stroke="#8a8a8a" stroke-width="1.2"/>
<line x1="164.32" y1="621.53" x2="167.82" y2="621.53" stroke="#555" stroke-width="1.1"/>
<rect x="169.82" y="625.14" width="5.4" height="19.26" fill="url(#p8)" stroke="#444" stroke-width="0.8"/>
<line x1="172.52" y1="625.14" x2="172.52" y2="623.13" stroke="#8a8a8a" stroke-width="1.2"/>
<line x1="170.77" y1="623.13" x2="174.27" y2="623.13" stroke="#555" stroke-width="1.1"/>
<rect x="176.27" y="626.08" width="5.4" height="18.32" fill="url(#p9)" stroke="#2a2a2a" stroke-width="0.8"/>
<line x1="178.97" y1="626.08" x2="178.97" y2="624.34" stroke="#8a8a8a" stroke-width="1.2"/>
<line x1="177.22" y1="624.34" x2="180.72" y2="624.34" stroke="#555" stroke-width="1.1"/>
<text x="153.17" y="659.4" text-anchor="middle" class="cat">50</text>
<rect x="193.11" y="611.36" width="5.4" height="33.04" fill="#ffffff" stroke="#5a5a5a" stroke-width="0.8"/>
<line x1="195.81" y1="611.36" x2="195.81" y2="606.41" stroke="#8a8a8a" stroke-width="1.2"/>
<line x1="194.06" y1="606.41" x2="197.56" y2="606.41" stroke="#555" stroke-width="1.1"/>
<rect x="199.56" y="628.48" width="5.4" height="15.92" fill="url(#g2)" stroke="#707070" stroke-width="0.8"/>
<line x1="202.26" y1="628.48" x2="202.26" y2="626.34" stroke="#8a8a8a" stroke-width="1.2"/>
<line x1="200.51" y1="626.34" x2="204.01" y2="626.34" stroke="#555" stroke-width="1.1"/>
<rect x="206.01" y="627.55" width="5.4" height="16.85" fill="url(#g3)" stroke="#686868" stroke-width="0.8"/>
<rect x="212.46" y="624.61" width="5.4" height="19.79" fill="#626262" stroke="#444" stroke-width="0.8"/>
<line x1="215.16" y1="624.61" x2="215.16" y2="622.47" stroke="#8a8a8a" stroke-width="1.2"/>
<line x1="213.41" y1="622.47" x2="216.91" y2="622.47" stroke="#555" stroke-width="1.1"/>
<rect x="218.91" y="628.62" width="5.4" height="15.78" fill="#141414" stroke="#111" stroke-width="0.8"/>
<line x1="221.61" y1="628.62" x2="221.61" y2="627.55" stroke="#8a8a8a" stroke-width="1.2"/>
<line x1="219.86" y1="627.55" x2="223.36" y2="627.55" stroke="#555" stroke-width="1.1"/>
<rect x="225.36" y="625.41" width="5.4" height="18.99" fill="url(#p6)" stroke="#666" stroke-width="0.8"/>
<rect x="231.81" y="619.25" width="5.4" height="25.14" fill="url(#p7)" stroke="#333" stroke-width="0.8"/>
<line x1="234.51" y1="619.25" x2="234.51" y2="606.41" stroke="#8a8a8a" stroke-width="1.2"/>
<line x1="232.76" y1="606.41" x2="236.26" y2="606.41" stroke="#555" stroke-width="1.1"/>
<rect x="238.26" y="623" width="5.4" height="21.4" fill="url(#p8)" stroke="#444" stroke-width="0.8"/>
<line x1="240.96" y1="623" x2="240.96" y2="620.32" stroke="#8a8a8a" stroke-width="1.2"/>
<line x1="239.21" y1="620.32" x2="242.71" y2="620.32" stroke="#555" stroke-width="1.1"/>
<rect x="244.71" y="627.28" width="5.4" height="17.12" fill="url(#p9)" stroke="#2a2a2a" stroke-width="0.8"/>
<line x1="247.41" y1="627.28" x2="247.41" y2="625.41" stroke="#8a8a8a" stroke-width="1.2"/>
<line x1="245.66" y1="625.41" x2="249.16" y2="625.41" stroke="#555" stroke-width="1.1"/>
<text x="221.61" y="659.4" text-anchor="middle" class="cat">25</text>
<rect x="261.56" y="564.28" width="5.4" height="80.12" fill="#ffffff" stroke="#5a5a5a" stroke-width="0.8"/>
<line x1="264.26" y1="564.28" x2="264.26" y2="554.39" stroke="#8a8a8a" stroke-width="1.2"/>
<line x1="262.51" y1="554.39" x2="266.01" y2="554.39" stroke="#555" stroke-width="1.1"/>
<rect x="268.01" y="630.76" width="5.4" height="13.64" fill="url(#g2)" stroke="#707070" stroke-width="0.8"/>
<rect x="274.46" y="592.37" width="5.4" height="52.03" fill="url(#g3)" stroke="#686868" stroke-width="0.8"/>
<line x1="277.16" y1="592.37" x2="277.16" y2="575.52" stroke="#8a8a8a" stroke-width="1.2"/>
<line x1="275.41" y1="575.52" x2="278.91" y2="575.52" stroke="#555" stroke-width="1.1"/>
<rect x="280.91" y="623.27" width="5.4" height="21.13" fill="#626262" stroke="#444" stroke-width="0.8"/>
<line x1="283.61" y1="623.27" x2="283.61" y2="620.99" stroke="#8a8a8a" stroke-width="1.2"/>
<line x1="281.86" y1="620.99" x2="285.36" y2="620.99" stroke="#555" stroke-width="1.1"/>
<rect x="287.36" y="626.34" width="5.4" height="18.06" fill="#141414" stroke="#111" stroke-width="0.8"/>
<rect x="293.81" y="627.01" width="5.4" height="17.39" fill="url(#p6)" stroke="#666" stroke-width="0.8"/>
<line x1="296.51" y1="627.01" x2="296.51" y2="625.54" stroke="#8a8a8a" stroke-width="1.2"/>
<line x1="294.76" y1="625.54" x2="298.26" y2="625.54" stroke="#555" stroke-width="1.1"/>
<rect x="300.26" y="622.33" width="5.4" height="22.07" fill="url(#p7)" stroke="#333" stroke-width="0.8"/>
<line x1="302.96" y1="622.33" x2="302.96" y2="618.59" stroke="#8a8a8a" stroke-width="1.2"/>
<line x1="301.21" y1="618.59" x2="304.71" y2="618.59" stroke="#555" stroke-width="1.1"/>
<rect x="306.71" y="624.2" width="5.4" height="20.2" fill="url(#p8)" stroke="#444" stroke-width="0.8"/>
<line x1="309.41" y1="624.2" x2="309.41" y2="621.66" stroke="#8a8a8a" stroke-width="1.2"/>
<line x1="307.66" y1="621.66" x2="311.16" y2="621.66" stroke="#555" stroke-width="1.1"/>
<rect x="313.16" y="627.95" width="5.4" height="16.45" fill="url(#p9)" stroke="#2a2a2a" stroke-width="0.8"/>
<line x1="315.86" y1="627.95" x2="315.86" y2="625.67" stroke="#8a8a8a" stroke-width="1.2"/>
<line x1="314.11" y1="625.67" x2="317.61" y2="625.67" stroke="#555" stroke-width="1.1"/>
<text x="290.06" y="659.4" text-anchor="middle" class="cat">12.5</text>
<rect x="330" y="541.55" width="5.4" height="102.85" fill="#ffffff" stroke="#5a5a5a" stroke-width="0.8"/>
<line x1="332.7" y1="541.55" x2="332.7" y2="530.85" stroke="#8a8a8a" stroke-width="1.2"/>
<line x1="330.95" y1="530.85" x2="334.45" y2="530.85" stroke="#555" stroke-width="1.1"/>
<rect x="336.45" y="630.22" width="5.4" height="14.18" fill="url(#g2)" stroke="#707070" stroke-width="0.8"/>
<line x1="339.15" y1="630.22" x2="339.15" y2="628.48" stroke="#8a8a8a" stroke-width="1.2"/>
<line x1="337.4" y1="628.48" x2="340.9" y2="628.48" stroke="#555" stroke-width="1.1"/>
<rect x="342.9" y="496.47" width="5.4" height="147.93" fill="url(#g3)" stroke="#686868" stroke-width="0.8"/>
<line x1="345.6" y1="496.47" x2="345.6" y2="469.45" stroke="#8a8a8a" stroke-width="1.2"/>
<line x1="343.85" y1="469.45" x2="347.35" y2="469.45" stroke="#555" stroke-width="1.1"/>
<rect x="349.35" y="625.94" width="5.4" height="18.46" fill="#626262" stroke="#444" stroke-width="0.8"/>
<line x1="352.05" y1="625.94" x2="352.05" y2="624.74" stroke="#8a8a8a" stroke-width="1.2"/>
<line x1="350.3" y1="624.74" x2="353.8" y2="624.74" stroke="#555" stroke-width="1.1"/>
<rect x="355.8" y="627.81" width="5.4" height="16.59" fill="#141414" stroke="#111" stroke-width="0.8"/>
<rect x="362.25" y="626.75" width="5.4" height="17.65" fill="url(#p6)" stroke="#666" stroke-width="0.8"/>
<rect x="368.7" y="622.47" width="5.4" height="21.93" fill="url(#p7)" stroke="#333" stroke-width="0.8"/>
<line x1="371.4" y1="622.47" x2="371.4" y2="620.06" stroke="#8a8a8a" stroke-width="1.2"/>
<line x1="369.65" y1="620.06" x2="373.15" y2="620.06" stroke="#555" stroke-width="1.1"/>
<rect x="375.15" y="625.41" width="5.4" height="18.99" fill="url(#p8)" stroke="#444" stroke-width="0.8"/>
<rect x="381.6" y="628.35" width="5.4" height="16.05" fill="url(#p9)" stroke="#2a2a2a" stroke-width="0.8"/>
<line x1="384.3" y1="628.35" x2="384.3" y2="627.55" stroke="#8a8a8a" stroke-width="1.2"/>
<line x1="382.55" y1="627.55" x2="386.05" y2="627.55" stroke="#555" stroke-width="1.1"/>
<text x="358.5" y="659.4" text-anchor="middle" class="cat">6.25</text>
<rect x="398.44" y="532.59" width="5.4" height="111.81" fill="#ffffff" stroke="#5a5a5a" stroke-width="0.8"/>
<line x1="401.14" y1="532.59" x2="401.14" y2="525.1" stroke="#8a8a8a" stroke-width="1.2"/>
<line x1="399.39" y1="525.1" x2="402.89" y2="525.1" stroke="#555" stroke-width="1.1"/>
<rect x="404.89" y="616.85" width="5.4" height="27.55" fill="url(#g2)" stroke="#707070" stroke-width="0.8"/>
<line x1="407.59" y1="616.85" x2="407.59" y2="612.43" stroke="#8a8a8a" stroke-width="1.2"/>
<line x1="405.84" y1="612.43" x2="409.34" y2="612.43" stroke="#555" stroke-width="1.1"/>
<rect x="411.34" y="488.45" width="5.4" height="155.95" fill="url(#g3)" stroke="#686868" stroke-width="0.8"/>
<line x1="414.04" y1="488.45" x2="414.04" y2="473.33" stroke="#8a8a8a" stroke-width="1.2"/>
<line x1="412.29" y1="473.33" x2="415.79" y2="473.33" stroke="#555" stroke-width="1.1"/>
<rect x="417.79" y="629.69" width="5.4" height="14.71" fill="#626262" stroke="#444" stroke-width="0.8"/>
<rect x="424.24" y="628.35" width="5.4" height="16.05" fill="#141414" stroke="#111" stroke-width="0.8"/>
<line x1="426.94" y1="628.35" x2="426.94" y2="627.01" stroke="#8a8a8a" stroke-width="1.2"/>
<line x1="425.19" y1="627.01" x2="428.69" y2="627.01" stroke="#555" stroke-width="1.1"/>
<rect x="430.69" y="627.55" width="5.4" height="16.85" fill="url(#p6)" stroke="#666" stroke-width="0.8"/>
<line x1="433.39" y1="627.55" x2="433.39" y2="625.14" stroke="#8a8a8a" stroke-width="1.2"/>
<line x1="431.64" y1="625.14" x2="435.14" y2="625.14" stroke="#555" stroke-width="1.1"/>
<rect x="437.14" y="623.8" width="5.4" height="20.6" fill="url(#p7)" stroke="#333" stroke-width="0.8"/>
<line x1="439.84" y1="623.8" x2="439.84" y2="619.39" stroke="#8a8a8a" stroke-width="1.2"/>
<line x1="438.09" y1="619.39" x2="441.59" y2="619.39" stroke="#555" stroke-width="1.1"/>
<rect x="443.59" y="630.22" width="5.4" height="14.18" fill="url(#p8)" stroke="#444" stroke-width="0.8"/>
<line x1="446.29" y1="630.22" x2="446.29" y2="628.35" stroke="#8a8a8a" stroke-width="1.2"/>
<line x1="444.54" y1="628.35" x2="448.04" y2="628.35" stroke="#555" stroke-width="1.1"/>
<rect x="450.04" y="628.08" width="5.4" height="16.32" fill="url(#p9)" stroke="#2a2a2a" stroke-width="0.8"/>
<text x="426.94" y="659.4" text-anchor="middle" class="cat">3.13</text>
<rect x="466.89" y="505.43" width="5.4" height="138.97" fill="#ffffff" stroke="#5a5a5a" stroke-width="0.8"/>
<line x1="469.59" y1="505.43" x2="469.59" y2="489.12" stroke="#8a8a8a" stroke-width="1.2"/>
<line x1="467.84" y1="489.12" x2="471.34" y2="489.12" stroke="#555" stroke-width="1.1"/>
<rect x="473.34" y="564.55" width="5.4" height="79.85" fill="url(#g2)" stroke="#707070" stroke-width="0.8"/>
<line x1="476.04" y1="564.55" x2="476.04" y2="554.52" stroke="#8a8a8a" stroke-width="1.2"/>
<line x1="474.29" y1="554.52" x2="477.79" y2="554.52" stroke="#555" stroke-width="1.1"/>
<rect x="479.79" y="508.51" width="5.4" height="135.89" fill="url(#g3)" stroke="#686868" stroke-width="0.8"/>
<line x1="482.49" y1="508.51" x2="482.49" y2="492.33" stroke="#8a8a8a" stroke-width="1.2"/>
<line x1="480.74" y1="492.33" x2="484.24" y2="492.33" stroke="#555" stroke-width="1.1"/>
<rect x="486.24" y="568.56" width="5.4" height="75.84" fill="#626262" stroke="#444" stroke-width="0.8"/>
<line x1="488.94" y1="568.56" x2="488.94" y2="558.93" stroke="#8a8a8a" stroke-width="1.2"/>
<line x1="487.19" y1="558.93" x2="490.69" y2="558.93" stroke="#555" stroke-width="1.1"/>
<rect x="492.69" y="629.42" width="5.4" height="14.98" fill="#141414" stroke="#111" stroke-width="0.8"/>
<line x1="495.39" y1="629.42" x2="495.39" y2="628.35" stroke="#8a8a8a" stroke-width="1.2"/>
<line x1="493.64" y1="628.35" x2="497.14" y2="628.35" stroke="#555" stroke-width="1.1"/>
<rect x="499.14" y="621.39" width="5.4" height="23" fill="url(#p6)" stroke="#666" stroke-width="0.8"/>
<line x1="501.84" y1="621.39" x2="501.84" y2="617.12" stroke="#8a8a8a" stroke-width="1.2"/>
<line x1="500.09" y1="617.12" x2="503.59" y2="617.12" stroke="#555" stroke-width="1.1"/>
<rect x="505.59" y="623" width="5.4" height="21.4" fill="url(#p7)" stroke="#333" stroke-width="0.8"/>
<line x1="508.29" y1="623" x2="508.29" y2="614.98" stroke="#8a8a8a" stroke-width="1.2"/>
<line x1="506.54" y1="614.98" x2="510.04" y2="614.98" stroke="#555" stroke-width="1.1"/>
<rect x="512.04" y="561.74" width="5.4" height="82.66" fill="url(#p8)" stroke="#444" stroke-width="0.8"/>
<line x1="514.74" y1="561.74" x2="514.74" y2="550.64" stroke="#8a8a8a" stroke-width="1.2"/>
<line x1="512.99" y1="550.64" x2="516.49" y2="550.64" stroke="#555" stroke-width="1.1"/>
<rect x="518.49" y="558" width="5.4" height="86.4" fill="url(#p9)" stroke="#2a2a2a" stroke-width="0.8"/>
<line x1="521.19" y1="558" x2="521.19" y2="545.56" stroke="#8a8a8a" stroke-width="1.2"/>
<line x1="519.44" y1="545.56" x2="522.94" y2="545.56" stroke="#555" stroke-width="1.1"/>
<text x="495.39" y="659.4" text-anchor="middle" class="cat">1.56</text>
<rect x="535.33" y="498.88" width="5.4" height="145.52" fill="#ffffff" stroke="#5a5a5a" stroke-width="0.8"/>
<line x1="538.03" y1="498.88" x2="538.03" y2="479.75" stroke="#8a8a8a" stroke-width="1.2"/>
<line x1="536.28" y1="479.75" x2="539.78" y2="479.75" stroke="#555" stroke-width="1.1"/>
<rect x="541.78" y="540.61" width="5.4" height="103.79" fill="url(#g2)" stroke="#707070" stroke-width="0.8"/>
<line x1="544.48" y1="540.61" x2="544.48" y2="527.5" stroke="#8a8a8a" stroke-width="1.2"/>
<line x1="542.73" y1="527.5" x2="546.23" y2="527.5" stroke="#555" stroke-width="1.1"/>
<rect x="548.23" y="501.02" width="5.4" height="143.38" fill="url(#g3)" stroke="#686868" stroke-width="0.8"/>
<line x1="550.93" y1="501.02" x2="550.93" y2="491.39" stroke="#8a8a8a" stroke-width="1.2"/>
<line x1="549.18" y1="491.39" x2="552.68" y2="491.39" stroke="#555" stroke-width="1.1"/>
<rect x="554.68" y="531.25" width="5.4" height="113.15" fill="#626262" stroke="#444" stroke-width="0.8"/>
<line x1="557.38" y1="531.25" x2="557.38" y2="514.26" stroke="#8a8a8a" stroke-width="1.2"/>
<line x1="555.63" y1="514.26" x2="559.13" y2="514.26" stroke="#555" stroke-width="1.1"/>
<rect x="561.13" y="574.05" width="5.4" height="70.35" fill="#141414" stroke="#111" stroke-width="0.8"/>
<line x1="563.83" y1="574.05" x2="563.83" y2="566.56" stroke="#8a8a8a" stroke-width="1.2"/>
<line x1="562.08" y1="566.56" x2="565.58" y2="566.56" stroke="#555" stroke-width="1.1"/>
<rect x="567.58" y="549.57" width="5.4" height="94.83" fill="url(#p6)" stroke="#666" stroke-width="0.8"/>
<line x1="570.28" y1="549.57" x2="570.28" y2="537.4" stroke="#8a8a8a" stroke-width="1.2"/>
<line x1="568.53" y1="537.4" x2="572.03" y2="537.4" stroke="#555" stroke-width="1.1"/>
<rect x="574.03" y="542.62" width="5.4" height="101.78" fill="url(#p7)" stroke="#333" stroke-width="0.8"/>
<line x1="576.73" y1="542.62" x2="576.73" y2="533.39" stroke="#8a8a8a" stroke-width="1.2"/>
<line x1="574.98" y1="533.39" x2="578.48" y2="533.39" stroke="#555" stroke-width="1.1"/>
<rect x="580.48" y="533.92" width="5.4" height="110.48" fill="url(#p8)" stroke="#444" stroke-width="0.8"/>
<line x1="583.18" y1="533.92" x2="583.18" y2="523.49" stroke="#8a8a8a" stroke-width="1.2"/>
<line x1="581.43" y1="523.49" x2="584.93" y2="523.49" stroke="#555" stroke-width="1.1"/>
<rect x="586.93" y="521.08" width="5.4" height="123.32" fill="url(#p9)" stroke="#2a2a2a" stroke-width="0.8"/>
<line x1="589.63" y1="521.08" x2="589.63" y2="513.46" stroke="#8a8a8a" stroke-width="1.2"/>
<line x1="587.88" y1="513.46" x2="591.38" y2="513.46" stroke="#555" stroke-width="1.1"/>
<text x="563.83" y="659.4" text-anchor="middle" class="cat">0.78</text>
<rect x="603.78" y="512.12" width="5.4" height="132.28" fill="#ffffff" stroke="#5a5a5a" stroke-width="0.8"/>
<line x1="606.48" y1="512.12" x2="606.48" y2="503.56" stroke="#8a8a8a" stroke-width="1.2"/>
<line x1="604.73" y1="503.56" x2="608.23" y2="503.56" stroke="#555" stroke-width="1.1"/>
<rect x="610.23" y="531.25" width="5.4" height="113.15" fill="url(#g2)" stroke="#707070" stroke-width="0.8"/>
<line x1="612.93" y1="531.25" x2="612.93" y2="526.43" stroke="#8a8a8a" stroke-width="1.2"/>
<line x1="611.18" y1="526.43" x2="614.68" y2="526.43" stroke="#555" stroke-width="1.1"/>
<rect x="616.68" y="513.33" width="5.4" height="131.07" fill="url(#g3)" stroke="#686868" stroke-width="0.8"/>
<line x1="619.38" y1="513.33" x2="619.38" y2="506.64" stroke="#8a8a8a" stroke-width="1.2"/>
<line x1="617.63" y1="506.64" x2="621.13" y2="506.64" stroke="#555" stroke-width="1.1"/>
<rect x="623.13" y="519.48" width="5.4" height="124.92" fill="#626262" stroke="#444" stroke-width="0.8"/>
<line x1="625.83" y1="519.48" x2="625.83" y2="510.38" stroke="#8a8a8a" stroke-width="1.2"/>
<line x1="624.08" y1="510.38" x2="627.58" y2="510.38" stroke="#555" stroke-width="1.1"/>
<rect x="629.58" y="533.39" width="5.4" height="111.01" fill="#141414" stroke="#111" stroke-width="0.8"/>
<line x1="632.28" y1="533.39" x2="632.28" y2="527.64" stroke="#8a8a8a" stroke-width="1.2"/>
<line x1="630.53" y1="527.64" x2="634.03" y2="527.64" stroke="#555" stroke-width="1.1"/>
<rect x="636.03" y="507.44" width="5.4" height="136.96" fill="url(#p6)" stroke="#666" stroke-width="0.8"/>
<line x1="638.73" y1="507.44" x2="638.73" y2="491.39" stroke="#8a8a8a" stroke-width="1.2"/>
<line x1="636.98" y1="491.39" x2="640.48" y2="491.39" stroke="#555" stroke-width="1.1"/>
<rect x="642.48" y="509.31" width="5.4" height="135.09" fill="url(#p7)" stroke="#333" stroke-width="0.8"/>
<line x1="645.18" y1="509.31" x2="645.18" y2="502.09" stroke="#8a8a8a" stroke-width="1.2"/>
<line x1="643.43" y1="502.09" x2="646.93" y2="502.09" stroke="#555" stroke-width="1.1"/>
<rect x="648.93" y="519.21" width="5.4" height="125.19" fill="url(#p8)" stroke="#444" stroke-width="0.8"/>
<line x1="651.63" y1="519.21" x2="651.63" y2="514.26" stroke="#8a8a8a" stroke-width="1.2"/>
<line x1="649.88" y1="514.26" x2="653.38" y2="514.26" stroke="#555" stroke-width="1.1"/>
<rect x="655.38" y="503.96" width="5.4" height="140.44" fill="url(#p9)" stroke="#2a2a2a" stroke-width="0.8"/>
<line x1="658.08" y1="503.96" x2="658.08" y2="497.27" stroke="#8a8a8a" stroke-width="1.2"/>
<line x1="656.33" y1="497.27" x2="659.83" y2="497.27" stroke="#555" stroke-width="1.1"/>
<text x="632.28" y="659.4" text-anchor="middle" class="cat">0.39</text>
<line x1="50.5" y1="644.4" x2="666.5" y2="644.4" stroke="#999" stroke-width="1"/>
<path d="M124.5 603.6 L124.5 601 Q124.5 600.3 125.2 600.3 L181.8 600.3 Q182.5 600.3 182.5 601 L182.5 603.6 M153.7 600.3 L153.7 597.1" fill="none" stroke="#505050" stroke-width="0.9"/>
<path d="M144.3 618 L144.3 615.4 Q144.3 614.7 145 614.7 L181.1 614.7 Q181.8 614.7 181.8 615.4 L181.8 618 M163.2 614.7 L163.2 611.5" fill="none" stroke="#505050" stroke-width="0.9"/>
<path d="M191.1 593.4 L191.1 590.8 Q191.1 590.1 191.8 590.1 L249.2 590.1 Q249.9 590.1 249.9 590.8 L249.9 593.4 M220.5 590.1 L220.5 586.9" fill="none" stroke="#505050" stroke-width="0.9"/>
<path d="M261.6 529.8 L261.6 527.2 Q261.6 526.5 262.3 526.5 L318.9 526.5 Q319.6 526.5 319.6 527.2 L319.6 529.8 M290.6 526.5 L290.6 523.3" fill="none" stroke="#505050" stroke-width="0.9"/>
<path d="M260.1 552.6 L260.1 550 Q260.1 549.3 260.8 549.3 L272.6 549.3 Q273.3 549.3 273.3 550 L273.3 552.6 M266.6 549.3 L266.6 546.1" fill="none" stroke="#505050" stroke-width="0.9"/>
<path d="M281.6 619 L281.6 616.4 Q281.6 615.7 282.3 615.7 L320.7 615.7 Q321.4 615.7 321.4 616.4 L321.4 619 M300.9 615.7 L300.9 612.5" fill="none" stroke="#505050" stroke-width="0.9"/>
<path d="M330.3 468.7 L330.3 466.1 Q330.3 465.4 331 465.4 L387.8 465.4 Q388.5 465.4 388.5 466.1 L388.5 468.7 M359.3 465.4 L359.3 462.2" fill="none" stroke="#505050" stroke-width="0.9"/>
<path d="M326.6 529.2 L326.6 526.6 Q326.6 525.9 327.3 525.9 L339.4 525.9 Q340.1 525.9 340.1 526.6 L340.1 529.2 M333.4 525.9 L333.4 522.7" fill="none" stroke="#505050" stroke-width="0.9"/>
<path d="M349.2 617.5 L349.2 614.9 Q349.2 614.2 349.9 614.2 L388.1 614.2 Q388.8 614.2 388.8 614.9 L388.8 617.5 M369.3 614.2 L369.3 611" fill="none" stroke="#505050" stroke-width="0.9"/>
<path d="M397.3 468.7 L397.3 466.1 Q397.3 465.4 398 465.4 L454.4 465.4 Q455.1 465.4 455.1 466.1 L455.1 468.7 M426.5 465.4 L426.5 462.2" fill="none" stroke="#505050" stroke-width="0.9"/>
<path d="M397.3 519.2 L397.3 516.6 Q397.3 515.9 398 515.9 L409.7 515.9 Q410.4 515.9 410.4 516.6 L410.4 519.2 M404 515.9 L404 512.7" fill="none" stroke="#505050" stroke-width="0.9"/>
<path d="M419.3 617.5 L419.3 614.9 Q419.3 614.2 420 614.2 L457.1 614.2 Q457.8 614.2 457.8 614.9 L457.8 617.5 M438.6 614.2 L438.6 611" fill="none" stroke="#505050" stroke-width="0.9"/>
<path d="M487.4 542.4 L487.4 539.8 Q487.4 539.1 488.1 539.1 L525.7 539.1 Q526.4 539.1 526.4 539.8 L526.4 542.4 M506.8 539.1 L506.8 535.9" fill="none" stroke="#505050" stroke-width="0.9"/>
<path d="M534.3 479.5 L534.3 476.9 Q534.3 476.2 535 476.2 L547.1 476.2 Q547.8 476.2 547.8 476.9 L547.8 479.5 M541 476.2 L541 473" fill="none" stroke="#505050" stroke-width="0.9"/>
<path d="M555.5 509.8 L555.5 507.2 Q555.5 506.5 556.2 506.5 L593.6 506.5 Q594.3 506.5 594.3 507.2 L594.3 509.8 M575.1 506.5 L575.1 503.3" fill="none" stroke="#505050" stroke-width="0.9"/>
<text x="153.7" y="595.6" text-anchor="middle" class="st">*</text>
<path d="M161.1 609 L162 603.8 M163 609 L163.9 603.8" stroke="#2a2a2a" stroke-width="0.95" fill="none"/><path d="M160.7 605.4 L164.5 605.4 M160.5 607.4 L164.2 607.4" stroke="#3a3a3a" stroke-width="0.7" fill="none"/>
<text x="220.2" y="583.7" text-anchor="middle" class="st">*</text>
<path d="M194.2 601.8 L195.1 596.6 M196.1 601.8 L197 596.6" stroke="#2a2a2a" stroke-width="0.95" fill="none"/><path d="M193.8 598.2 L197.6 598.2 M193.6 600.2 L197.3 600.2" stroke="#3a3a3a" stroke-width="0.7" fill="none"/>
<path d="M233.3 601.8 L234.2 596.6 M235.2 601.8 L236.1 596.6" stroke="#2a2a2a" stroke-width="0.95" fill="none"/><path d="M232.9 598.2 L236.7 598.2 M232.7 600.2 L236.4 600.2" stroke="#3a3a3a" stroke-width="0.7" fill="none"/>
<text x="290" y="522.9" text-anchor="middle" class="st">*</text>
<path d="M265.2 542.3 L266.1 537.1 M267.1 542.3 L268 537.1" stroke="#2a2a2a" stroke-width="0.95" fill="none"/><path d="M264.8 538.7 L268.6 538.7 M264.6 540.7 L268.3 540.7" stroke="#3a3a3a" stroke-width="0.7" fill="none"/>
<path d="M299.1 604.1 L300 598.9 M301 604.1 L301.9 598.9" stroke="#2a2a2a" stroke-width="0.95" fill="none"/><path d="M298.7 600.5 L302.5 600.5 M298.5 602.5 L302.2 602.5" stroke="#3a3a3a" stroke-width="0.7" fill="none"/>
<text x="359.3" y="462.1" text-anchor="middle" class="st">*</text>
<path d="M332 518.6 L332.9 513.4 M333.9 518.6 L334.8 513.4" stroke="#2a2a2a" stroke-width="0.95" fill="none"/><path d="M331.6 515 L335.4 515 M331.4 517 L335.1 517" stroke="#3a3a3a" stroke-width="0.7" fill="none"/>
<path d="M367.9 603.4 L368.8 598.2 M369.8 603.4 L370.7 598.2" stroke="#2a2a2a" stroke-width="0.95" fill="none"/><path d="M367.5 599.8 L371.3 599.8 M367.3 601.8 L371 601.8" stroke="#3a3a3a" stroke-width="0.7" fill="none"/>
<text x="426.5" y="461.4" text-anchor="middle" class="st">*</text>
<path d="M402.9 506.5 L403.8 501.3 M404.8 506.5 L405.7 501.3" stroke="#2a2a2a" stroke-width="0.95" fill="none"/><path d="M402.5 502.9 L406.3 502.9 M402.3 504.9 L406 504.9" stroke="#3a3a3a" stroke-width="0.7" fill="none"/>
<path d="M436.6 603.4 L437.5 598.2 M438.5 603.4 L439.4 598.2" stroke="#2a2a2a" stroke-width="0.95" fill="none"/><path d="M436.2 599.8 L440 599.8 M436 601.8 L439.7 601.8" stroke="#3a3a3a" stroke-width="0.7" fill="none"/>
<path d="M474.4 544.6 L475.3 539.4 M476.3 544.6 L477.2 539.4" stroke="#2a2a2a" stroke-width="0.95" fill="none"/><path d="M474 541 L477.8 541 M473.8 543 L477.5 543" stroke="#3a3a3a" stroke-width="0.7" fill="none"/>
<text x="475.8" y="554.8" text-anchor="middle" class="st">*</text>
<text x="504.5" y="535.6" text-anchor="middle" class="st">*</text>
<path d="M509.1 532.6 L510 527.4 M511 532.6 L511.9 527.4" stroke="#2a2a2a" stroke-width="0.95" fill="none"/><path d="M508.7 529 L512.5 529 M508.5 531 L512.2 531" stroke="#3a3a3a" stroke-width="0.7" fill="none"/>
<text x="541" y="473" text-anchor="middle" class="st">*</text>
<path d="M542.5 523.8 L543.4 518.6 M544.4 523.8 L545.3 518.6" stroke="#2a2a2a" stroke-width="0.95" fill="none"/><path d="M542.1 520.2 L545.9 520.2 M541.9 522.2 L545.6 522.2" stroke="#3a3a3a" stroke-width="0.7" fill="none"/>
<text x="572" y="500" text-anchor="middle" class="st">*</text>
<path d="M577 497 L577.9 491.8 M578.9 497 L579.8 491.8" stroke="#2a2a2a" stroke-width="0.95" fill="none"/><path d="M576.6 493.4 L580.4 493.4 M576.4 495.4 L580.1 495.4" stroke="#3a3a3a" stroke-width="0.7" fill="none"/>
<text x="612.8" y="525.2" text-anchor="middle" class="st">*</text>
<path d="M611.4 513.6 L612.3 508.4 M613.3 513.6 L614.2 508.4" stroke="#2a2a2a" stroke-width="0.95" fill="none"/><path d="M611 510 L614.8 510 M610.8 512 L614.5 512" stroke="#3a3a3a" stroke-width="0.7" fill="none"/>
<text x="625.7" y="508.9" text-anchor="middle" class="st">*</text>
<text x="632.3" y="527.8" text-anchor="middle" class="st">*</text>
<path d="M630.9 517.4 L631.8 512.2 M632.8 517.4 L633.7 512.2" stroke="#2a2a2a" stroke-width="0.95" fill="none"/><path d="M630.5 513.8 L634.3 513.8 M630.3 515.8 L634 515.8" stroke="#3a3a3a" stroke-width="0.7" fill="none"/>
<text x="651.6" y="513.6" text-anchor="middle" class="st">*</text>
<text x="658.2" y="496.5" text-anchor="middle" class="st">*</text>
<path d="M656.8 486.3 L657.7 481.1 M658.7 486.3 L659.6 481.1" stroke="#2a2a2a" stroke-width="0.95" fill="none"/><path d="M656.4 482.7 L660.2 482.7 M656.2 484.7 L659.9 484.7" stroke="#3a3a3a" stroke-width="0.7" fill="none"/>
<text x="339.3" y="685.6" text-anchor="middle" class="dil" style="font-size:11.25px">Dilutions (% vol/vol)</text>
<rect x="115.2" y="703.3" width="5.2" height="5.2" fill="#ffffff" stroke="#5a5a5a" stroke-width="0.8"/>
<text transform="translate(123.5,708.6) scale(0.9,1)" class="lg" style="font-size:9px">EDF 1. Ketotifen 0.025% (SiD)</text>
<rect x="304" y="703.3" width="5.2" height="5.2" fill="url(#g2)" stroke="#707070" stroke-width="0.8"/>
<text transform="translate(311.5,708.6) scale(0.9,1)" class="lg" style="font-size:9px">EDF 2. Azelastine 0.05% (SiD)</text>
<rect x="492.8" y="703.3" width="5.2" height="5.2" fill="url(#g3)" stroke="#686868" stroke-width="0.8"/>
<text transform="translate(499,708.6) scale(0.9,1)" class="lg" style="font-size:9px">EDF 3. Bilastine 0.6%</text>
<rect x="115.2" y="720" width="5.2" height="5.2" fill="#626262" stroke="#444" stroke-width="0.8"/>
<text transform="translate(123.5,725.3) scale(0.9,1)" class="lg" style="font-size:9px">EDF 4. Olopatadine 0.222%</text>
<rect x="304" y="720" width="5.2" height="5.2" fill="#141414" stroke="#111" stroke-width="0.8"/>
<text transform="translate(311.5,725.3) scale(0.9,1)" class="lg" style="font-size:9px">EDF 5. Azelastine 0.05%</text>
<rect x="492.8" y="720" width="5.2" height="5.2" fill="url(#p6)" stroke="#666" stroke-width="0.8"/>
<text transform="translate(499,725.3) scale(0.9,1)" class="lg" style="font-size:9px">EDF 6. Olopatadine 0.776%</text>
<rect x="115.2" y="736.7" width="5.2" height="5.2" fill="url(#p7)" stroke="#333" stroke-width="0.8"/>
<text transform="translate(123.5,742) scale(0.9,1)" class="lg" style="font-size:9px">EDF 7. Levocabastine 0.05%</text>
<rect x="304" y="736.7" width="5.2" height="5.2" fill="url(#p8)" stroke="#444" stroke-width="0.8"/>
<text transform="translate(311.5,742) scale(0.9,1)" class="lg" style="font-size:9px">EDF 8. Olopatadine 0.1%</text>
<rect x="492.8" y="736.7" width="5.2" height="5.2" fill="url(#p9)" stroke="#2a2a2a" stroke-width="0.8"/>
<text transform="translate(499,742) scale(0.9,1)" class="lg" style="font-size:9px">EDF 9. Ketotifen 0.025%</text>
</svg></body></html>
